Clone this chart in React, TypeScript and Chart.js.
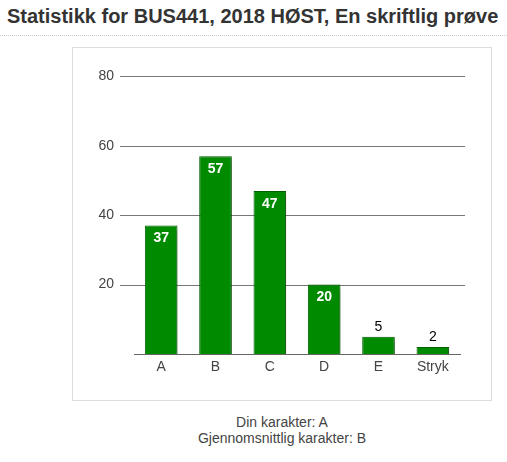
import React, { useEffect, useRef } from 'react';
import Chart from 'chart.js/auto';

const grades = ['A', 'B', 'C', 'D', 'E', 'Stryk'];
const counts = [37, 57, 47, 20, 5, 2];
const yTicks = [20, 40, 60, 80];

const FONT = '"Liberation Sans", Arial, Helvetica, sans-serif';

// soft shadow behind the bars
const shadowPlugin = {
  id: 'barShadow',
  beforeDatasetsDraw(chart: any) {
    const ctx = chart.ctx;
    ctx.save();
    ctx.shadowColor = 'rgba(0,0,0,0.35)';
    ctx.shadowBlur = 5;
    ctx.shadowOffsetX = 3;
    ctx.shadowOffsetY = 2;
  },
  afterDatasetsDraw(chart: any) {
    chart.ctx.restore();
  },
};

// horizontal grid lines, a bit wider than the plot area
const gridPlugin = {
  id: 'wideGrid',
  beforeDatasetsDraw(chart: any) {
    const { ctx, chartArea, scales } = chart;
    ctx.save();
    ctx.strokeStyle = '#777';
    ctx.lineWidth = 1;
    yTicks.forEach(v => {
      const y = Math.round(scales.y.getPixelForValue(v)) + 0.5;
      ctx.beginPath();
      ctx.moveTo(chartArea.left - 14, y);
      ctx.lineTo(chartArea.right + 5, y);
      ctx.stroke();
    });
    ctx.restore();
  },
};

// value labels on the bars
const labelPlugin = {
  id: 'barLabels',
  afterDatasetsDraw(chart: any) {
    const ctx = chart.ctx;
    const meta = chart.getDatasetMeta(0);
    ctx.save();
    ctx.textAlign = 'center';
    ctx.textBaseline = 'middle';
    meta.data.forEach((bar: any, i: number) => {
      const v = counts[i];
      if (v >= 10) {
        ctx.fillStyle = '#fff';
        ctx.font = `bold 14px ${FONT}`;
        ctx.fillText(String(v), bar.x, bar.y + 13);
      } else {
        ctx.fillStyle = '#000';
        ctx.font = `14px ${FONT}`;
        ctx.fillText(String(v), bar.x, bar.y - 10);
      }
    });
    ctx.restore();
  },
};

export default function App() {
  const chartRef = useRef<HTMLCanvasElement>(null);
  const chartInstance = useRef<Chart | null>(null);

  useEffect(() => {
    if (!chartRef.current) return;
    if (chartInstance.current) chartInstance.current.destroy();

    chartInstance.current = new Chart(chartRef.current, {
      type: 'bar',
      data: {
        labels: grades,
        datasets: [
          {
            data: counts,
            backgroundColor: '#008a00',
            borderColor: '#006400',
            borderWidth: 1,
            barPercentage: 0.6,
            categoryPercentage: 1,
          },
        ],
      },
      plugins: [gridPlugin, shadowPlugin, labelPlugin],
      options: {
        animation: false,
        responsive: false,
        maintainAspectRatio: false,
        layout: { padding: { top: 26, right: 32, bottom: 17, left: 22 } },
        plugins: {
          legend: { display: false },
          tooltip: { enabled: false },
        },
        scales: {
          x: {
            grid: { display: false, drawTicks: false },
            border: { display: true, color: '#666', width: 1 },
            ticks: { color: '#444', font: { family: FONT, size: 14 }, padding: 5 },
            afterFit(scale: any) {
              scale.height = 30;
            },
          },
          y: {
            min: 0,
            max: 80,
            grid: { display: false, drawTicks: false },
            border: { display: false },
            ticks: {
              stepSize: 20,
              color: '#444',
              padding: 20,
              font: { family: FONT, size: 14 },
              callback: (v: any) => (v === 0 ? '' : v),
            },
            afterFit(scale: any) {
              scale.width = 40;
            },
          },
        },
      },
    });

    return () => {
      if (chartInstance.current) {
        chartInstance.current.destroy();
        chartInstance.current = null;
      }
    };
  }, []);

  return (
    <div
      style={{
        position: 'absolute',
        left: 0,
        top: 0,
        width: 507,
        height: 462,
        background: '#fff',
        fontFamily: FONT,
        overflow: 'hidden',
      }}
    >
      <div
        style={{
          position: 'absolute',
          left: 7,
          top: 4,
          fontSize: 20,
          fontWeight: 'bold',
          color: '#333',
          whiteSpace: 'nowrap',
          lineHeight: '24px',
        }}
      >
        Statistikk for BUS441, 2018 HØST, En skriftlig prøve
      </div>
      <div
        style={{
          position: 'absolute',
          left: 0,
          top: 35,
          width: 507,
          borderTop: '1px dotted #ccc',
        }}
      />
      <div
        style={{
          position: 'absolute',
          left: 72,
          top: 47,
          width: 418,
          height: 352,
          border: '1px solid #ddd',
        }}
      />
      <canvas
        ref={chartRef}
        width={420}
        height={353}
        style={{ position: 'absolute', left: 72, top: 48, width: 420, height: 353 }}
      />
      <div
        style={{
          position: 'absolute',
          left: 72,
          top: 414,
          width: 420,
          textAlign: 'center',
          fontSize: 14,
          lineHeight: '16px',
          color: '#444',
        }}
      >
        <div>Din karakter: A</div>
        <div>Gjennomsnittlig karakter: B</div>
      </div>
    </div>
  );
}
